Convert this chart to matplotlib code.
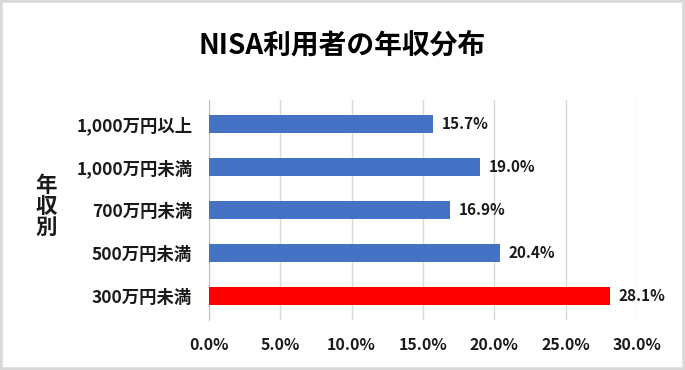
import matplotlib
matplotlib.use('Agg')
import matplotlib.pyplot as plt
from matplotlib.patches import Rectangle

plt.rcParams['font.family'] = ['Noto Sans CJK JP', 'DejaVu Sans']

categories = ['300万円未満', '500万円未満', '700万円未満', '1,000万円未満', '1,000万円以上']
values = [28.1, 20.4, 16.9, 19.0, 15.7]
colors = ['#FF0000', '#4472C4', '#4472C4', '#4472C4', '#4472C4']
xticks = [0, 5, 10, 15, 20, 25, 30]

fig = plt.figure(figsize=(6.85, 3.7), dpi=100)
ax = fig.add_axes([0.305, 0.135, 0.625, 0.595])

ax.barh(categories, values, height=0.42, color=colors, zorder=3)
for i, v in enumerate(values):
    ax.text(v + 0.6, i, f'{v:.1f}%', va='center', ha='left',
            fontsize=11, fontweight='bold', color='#1a1a1a')

ax.set_xlim(0, 30)
ax.set_ylim(-0.55, 4.55)
ax.set_xticks(xticks)
ax.set_xticklabels([f'{t:.1f}%' for t in xticks])
ax.grid(axis='x', color='#d9d9d9', linewidth=1, zorder=0)
for s in ['top', 'right', 'bottom']:
    ax.spines[s].set_visible(False)
ax.spines['left'].set_color('#bfbfbf')
ax.tick_params(length=0, colors='#1a1a1a')
ax.tick_params(axis='x', labelsize=11.5, pad=12)
ax.tick_params(axis='y', labelsize=12.5, pad=12)
for lab in ax.get_xticklabels() + ax.get_yticklabels():
    lab.set_fontweight('bold')

fig.text(0.067, 0.443, '年\n収\n別', ha='center', va='center', fontsize=15.5,
         fontweight='bold', color='#1a1a1a', linespacing=1.0)
fig.text(0.5, 0.878, 'NISA利用者の年収分布', ha='center', va='center',
         fontsize=20, fontweight='bold', color='black')

fig.patches.append(Rectangle((0, 0), 1, 1, transform=fig.transFigure, fill=False,
                             edgecolor='#d9d9d9', linewidth=4))

fig.savefig('out.png', dpi=100)
